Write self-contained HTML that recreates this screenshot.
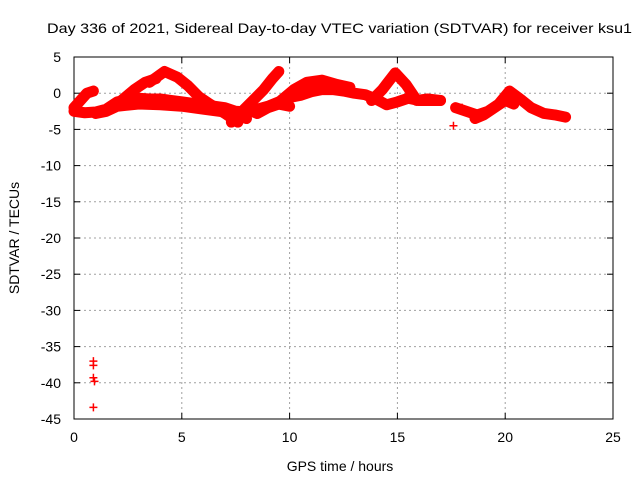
<!DOCTYPE html>
<html><head><meta charset="utf-8"><style>
body{margin:0;background:#fff;font-family:"Liberation Sans",sans-serif}
svg text{font-family:"Liberation Sans",sans-serif;font-size:14px;fill:#000}
</style></head><body>
<svg width="640" height="480">
<rect width="640" height="480" fill="#fff"/>
<g id="grid"></g>
<g id="axes"></g>
<g id="data"></g>
<text x="47" y="33" textLength="585" lengthAdjust="spacingAndGlyphs">Day 336 of 2021, Sidereal Day-to-day VTEC variation (SDTVAR) for receiver ksu1</text>
<text x="340" y="471" text-anchor="middle">GPS time / hours</text>
<text x="19" y="238" text-anchor="middle" transform="rotate(-90 19 238)">SDTVAR / TECUs</text>
</svg>
<script>
const xTicks=[0,5,10,15,20,25];
const yTicks=[5,0,-5,-10,-15,-20,-25,-30,-35,-40,-45];
const trackHours=[
[0,0.3,0.6,0.9],
[0,0.5,1,1.5,2,2.5,3,3.5,4,4.5,5,5.5,6,6.5,7,7.5,8,8.5,9,9.5,10,10.5,11,11.5,12,12.5,13,13.5,14,14.5,15,15.5,16,16.5,17],
[3.5,4.2,4.8,5.3,5.8,6.3,7,7.6],
[7.3,7.8,8.3,8.8,9.2,9.5],
[9.6,10.2,10.8,11.5,12.2,12.8],
[2.2,2.8,3.3,3.8],
[13.8,14.3,14.9,15.4,15.9,16.4,17],
[17.7,18.2,18.7,19.2,19.7,20.2,20.7,21.2,21.8,22.3,22.8],
[18.6,19,19.5,20,20.4],
[1,1.5,2,3,4,5,6,7,7.5,8],
[7.6,8,8.5,9,9.5,10]
];
const trackValues=[
[-2,-1,0,0.3],
[-2.5,-2.7,-2.6,-2.2,-1.2,-0.9,-0.7,-0.8,-0.8,-1,-1.2,-1.4,-1.6,-1.8,-2,-2.5,-2.6,-2.2,-1.8,-1.2,-0.6,-0.3,0.2,0.5,0.5,0.3,0,-0.2,-0.8,-1.6,-1.2,-0.7,-1,-1,-1],
[1.5,3,2.2,1,-0.5,-1.5,-2.8,-4],
[-4,-2.5,-1,0.5,2,3],
[-1,0.5,1.5,1.8,1.2,0.8],
[-1,0.5,1.5,2],
[-1,0.5,2.8,1.2,-1,-0.8,-1],
[-2,-2.5,-3,-2.5,-1.5,0.3,-0.8,-2,-2.8,-3,-3.3],
[-3.5,-3,-2,-1,-1.5],
[-2.8,-2.5,-1.8,-1.5,-1.6,-1.8,-2.2,-2.6,-3,-3.5],
[-3,-2.2,-2.8,-2,-1.5,-1.8]
];
const isoHours=[0.9,0.9,0.9,0.95,0.9,17.6,18];
const isoValues=[-37,-37.6,-39.3,-39.8,-43.4,-4.5,-2];
const NS='http://www.w3.org/2000/svg';
const X=h=>74+h*(539/25), Y=v=>57+(5-v)*(362/50);
const grid=document.getElementById('grid'),axes=document.getElementById('axes'),data=document.getElementById('data');
function mk(tag,at,p){const e=document.createElementNS(NS,tag);for(const k in at)e.setAttribute(k,at[k]);p.appendChild(e);return e;}
mk('rect',{x:74,y:57,width:539,height:362,fill:'none',stroke:'#000','stroke-width':1},axes);
xTicks.forEach(t=>{const x=X(t);
 if(t>0&&t<25){const g=mk('line',{x1:x,x2:x,y1:57,y2:419,stroke:'#a0a0a0','stroke-dasharray':'2,3'},grid);
 
 }
 mk('line',{x1:x,x2:x,y1:419,y2:413,stroke:'#000'},axes);mk('line',{x1:x,x2:x,y1:57,y2:63,stroke:'#000'},axes);
 const tx=mk('text',{x:x,y:442,'text-anchor':'middle'},axes);tx.textContent=t;
 
 });
yTicks.forEach(t=>{const y=Y(t);
 if(t<5&&t>-45){const g=mk('line',{x1:74,x2:613,y1:y,y2:y,stroke:'#a0a0a0','stroke-dasharray':'2,3'},grid);
 
 }
 mk('line',{x1:74,x2:80,y1:y,y2:y,stroke:'#000'},axes);mk('line',{x1:613,x2:607,y1:y,y2:y,stroke:'#000'},axes);
 const tx=mk('text',{x:61,y:y+5,'text-anchor':'end'},axes);tx.textContent=t;
 
 });
trackHours.forEach((hs,i)=>{const pts=hs.map((h,j)=>X(h)+','+Y(trackValues[i][j])).join(' ');
 const p=mk('polyline',{points:pts,fill:'none',stroke:'#f00','stroke-width':11,'stroke-linejoin':'round','stroke-linecap':'round'},data);
 
 });
isoHours.forEach((h,i)=>{const x=X(h),y=Y(isoValues[i]);
 const p=mk('path',{d:`M${x-4},${y}H${x+4}M${x},${y-4}V${y+4}`,stroke:'#f00','stroke-width':1.5},data);
 
 });
</script>
</body></html>
